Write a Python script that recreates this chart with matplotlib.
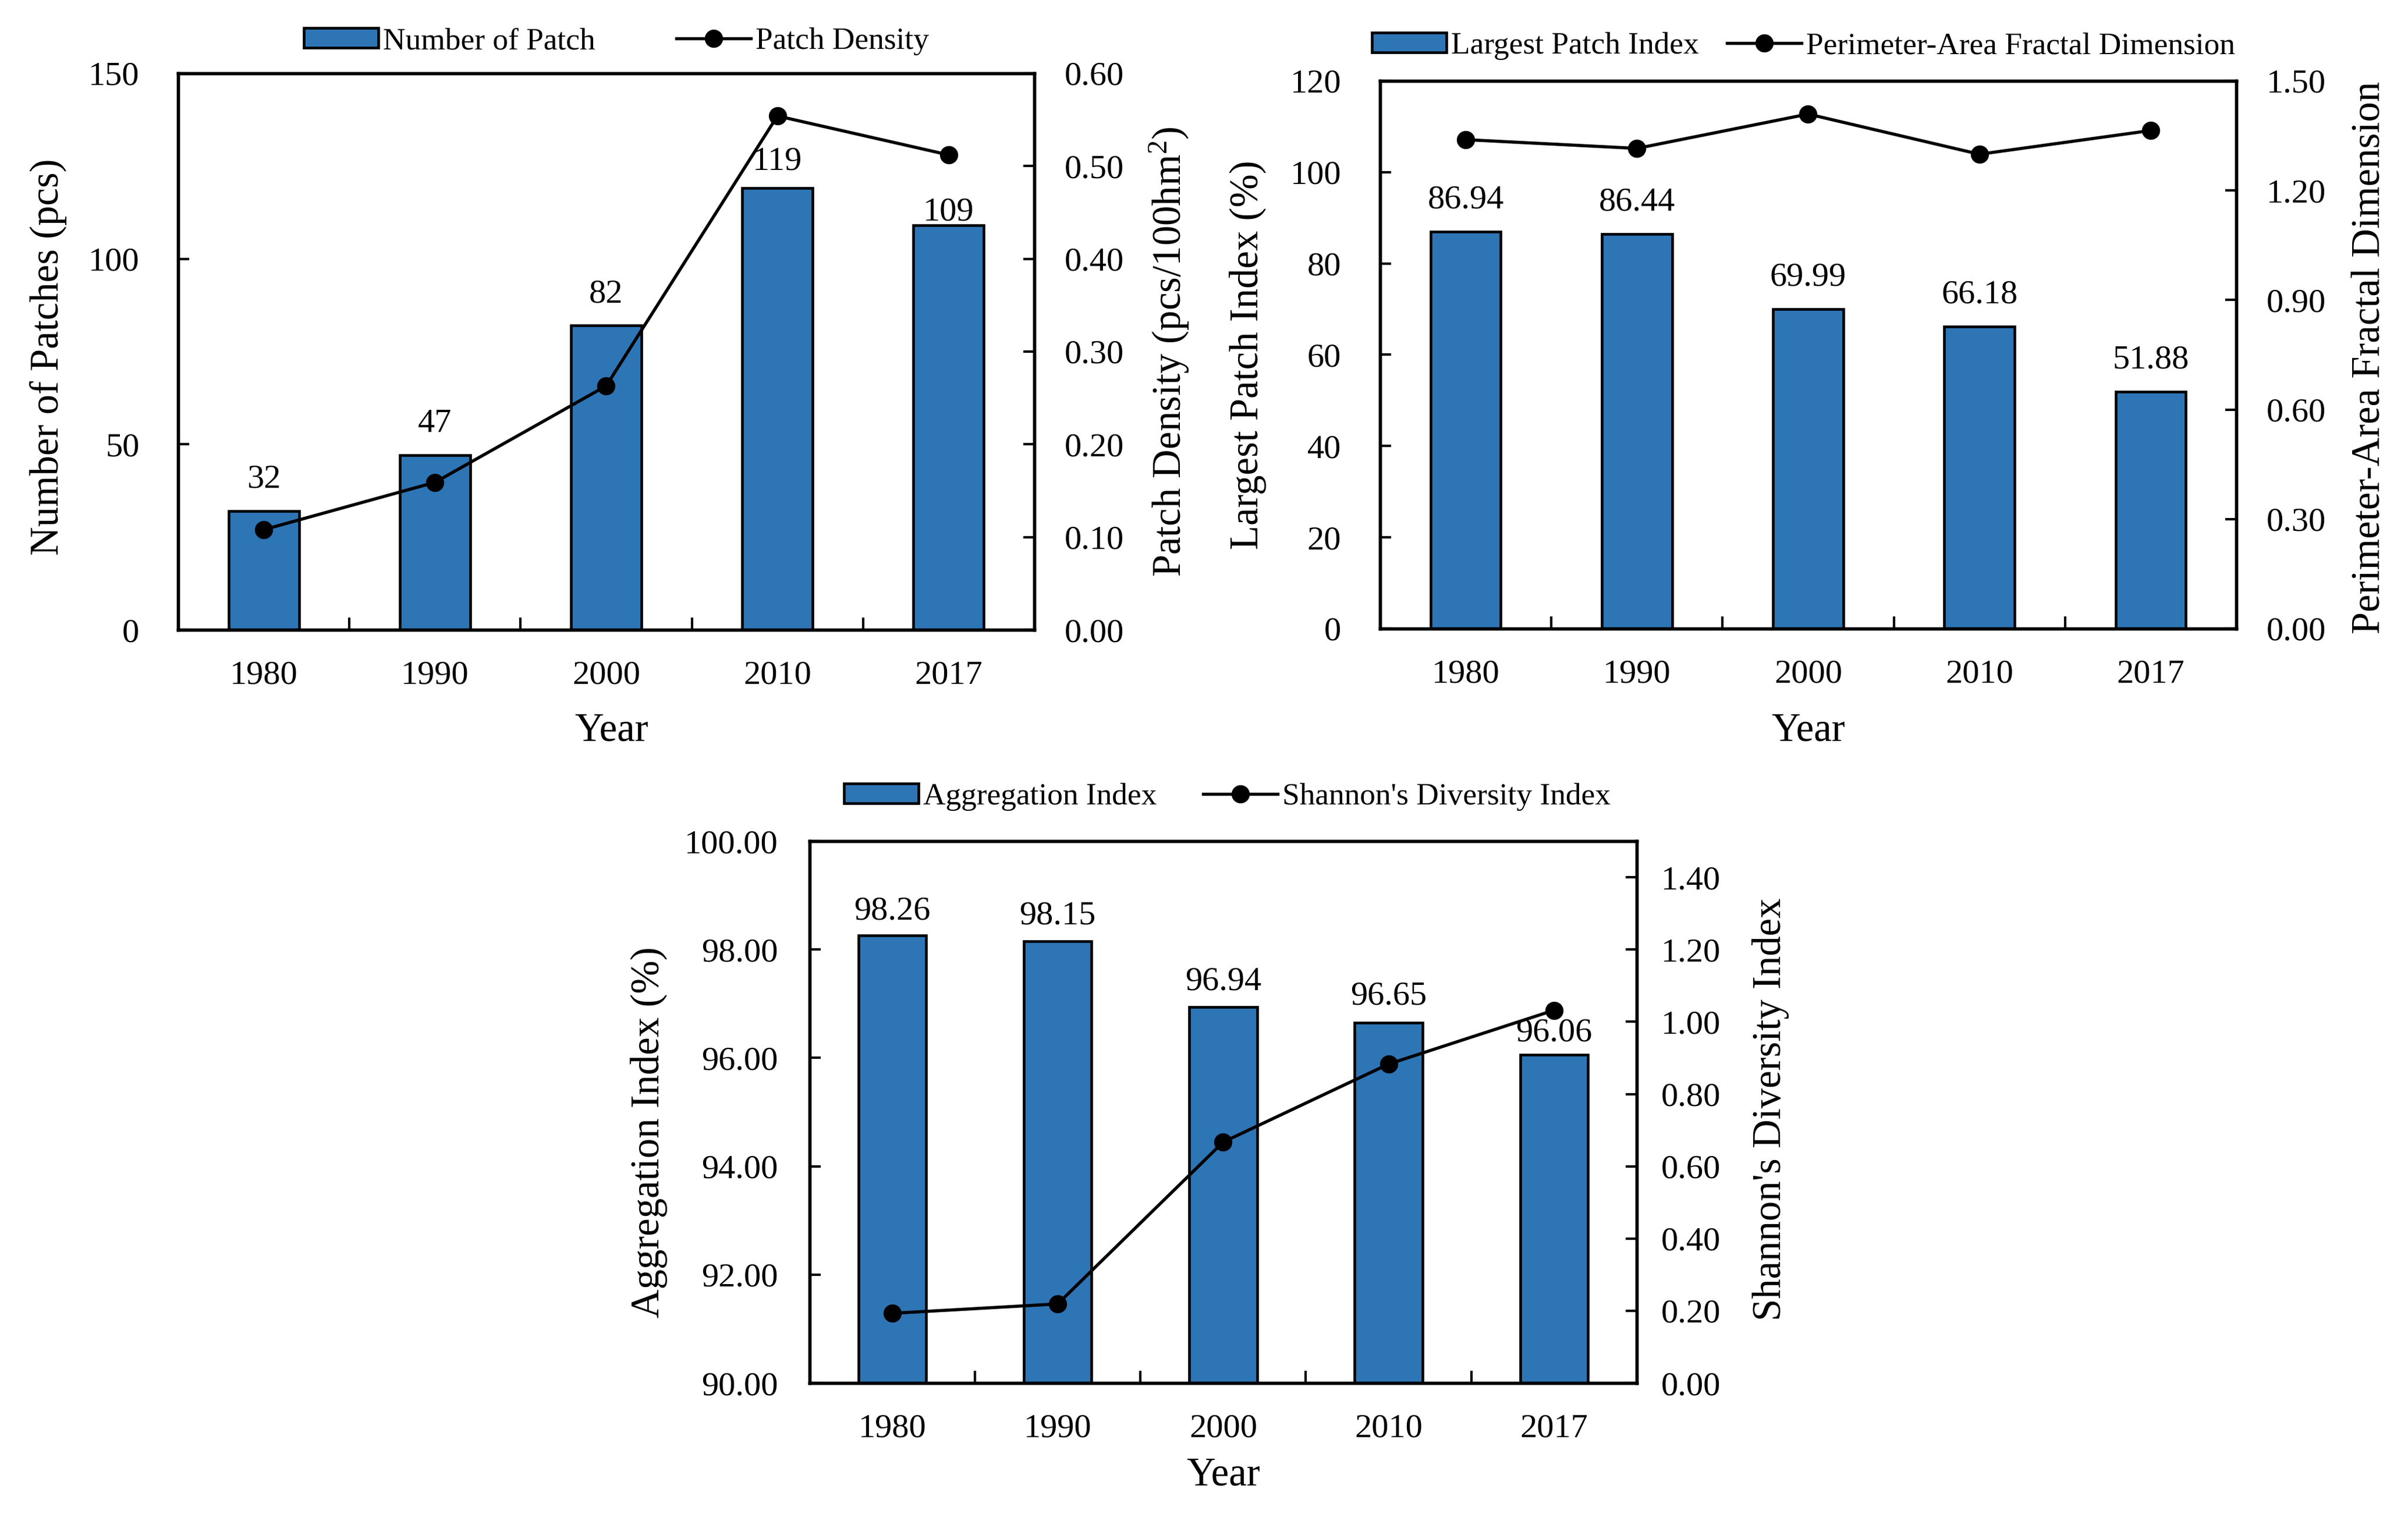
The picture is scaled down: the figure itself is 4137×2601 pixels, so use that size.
import matplotlib
matplotlib.use("Agg")
import matplotlib.pyplot as plt
from matplotlib.ticker import FormatStrFormatter, FixedLocator
import numpy as np

plt.rcParams['font.family'] = ['Liberation Serif', 'DejaVu Serif']
plt.rcParams['mathtext.fontset'] = 'custom'
plt.rcParams['mathtext.rm'] = 'Liberation Serif'
plt.rcParams['mathtext.it'] = 'Liberation Serif:italic'

# ---------------- data ----------------
years = ["1980", "1990", "2000", "2010", "2017"]

number_of_patch = [32, 47, 82, 119, 109]
patch_density = [0.108, 0.159, 0.263, 0.554, 0.512]

largest_patch_index = [86.94, 86.44, 69.99, 66.18, 51.88]
pafd = [1.339, 1.315, 1.409, 1.299, 1.364]

aggregation_index = [98.26, 98.15, 96.94, 96.65, 96.06]
shannon_diversity = [0.193, 0.219, 0.667, 0.883, 1.032]

bar_labels_1 = ["32", "47", "82", "119", "109"]
bar_labels_2 = ["86.94", "86.44", "69.99", "66.18", "51.88"]
bar_labels_3 = ["98.26", "98.15", "96.94", "96.65", "96.06"]

BAR_COLOR = "#2E75B6"
TICK_FS = 14
LABEL_FS = 16.5
LEG_FS = 12.8

fig = plt.figure(figsize=(4137 / 300, 2601 / 300), dpi=300)


def panel(rect, bars, line, labels, label_offsets, bar_name, line_name,
          ylim_l, yticks_l, fmt_l, ylim_r, yticks_r, fmt_r,
          ylabel_l, ylabel_r, lcoords, rcoords, xcoords,
          legend_pos, colspacing, lpad, rpad):
    ax = fig.add_axes(rect)
    x = np.arange(len(years))
    b = ax.bar(x, bars, width=0.41, color=BAR_COLOR, edgecolor="black",
               linewidth=1.1, label=bar_name, zorder=2)
    ax.set_xlim(-0.5, len(years) - 0.5)
    ax.set_ylim(*ylim_l)
    ax.set_yticks(yticks_l)
    ax.yaxis.set_major_formatter(FormatStrFormatter(fmt_l))
    ax.set_xticks(x)
    ax.set_xticklabels(years)
    ax.xaxis.set_minor_locator(FixedLocator(np.arange(len(years) - 1) + 0.5))
    ax.tick_params(axis="x", which="major", length=0, pad=12.5, labelsize=TICK_FS)
    ax.tick_params(axis="x", which="minor", direction="in", length=5, width=1.0)
    ax.tick_params(axis="y", direction="in", length=4.5, width=1.0,
                   pad=lpad, labelsize=TICK_FS)
    for s in ax.spines.values():
        s.set_linewidth(1.3)
    for xi, v, t, off in zip(x, bars, labels, label_offsets):
        ax.annotate(t, (xi, v), xytext=(0, off), textcoords="offset points",
                    ha="center", va="center", fontsize=TICK_FS, zorder=5)

    ax2 = ax.twinx()
    ln, = ax2.plot(x, line, color="black", linewidth=1.3, marker="o",
                   markersize=6.5, label=line_name, zorder=3)
    ax2.set_ylim(*ylim_r)
    ax2.set_yticks(yticks_r)
    ax2.yaxis.set_major_formatter(FormatStrFormatter(fmt_r))
    ax2.tick_params(axis="y", direction="in", length=4.5, width=1.0,
                    pad=rpad, labelsize=TICK_FS)
    for s in ax2.spines.values():
        s.set_linewidth(1.3)

    ax.set_ylabel(ylabel_l, fontsize=LABEL_FS, va="center", ha="center")
    ax.yaxis.set_label_coords(*lcoords)
    ax2.set_ylabel(ylabel_r, fontsize=LABEL_FS, rotation=90,
                   va="center", ha="center")
    ax2.yaxis.set_label_coords(*rcoords)
    ax.set_xlabel("Year", fontsize=LABEL_FS, va="center", ha="center")
    ax.xaxis.set_label_coords(*xcoords)

    fig.legend([b, ln], [bar_name, line_name], loc="center",
               bbox_to_anchor=legend_pos, bbox_transform=fig.transFigure,
               ncol=2, frameon=False, fontsize=LEG_FS, handlelength=2.4,
               handleheight=0.6, handletextpad=0.15, columnspacing=colspacing,
               borderpad=0.1)
    return ax, ax2


# Panel 1
panel([0.074, 0.584, 0.3555, 0.3676], number_of_patch, patch_density,
      bar_labels_1, [13, 13, 13, 11, 5.5], "Number of Patch", "Patch Density",
      (0, 150), [0, 50, 100, 150], "%d",
      (0, 0.6), [0, 0.1, 0.2, 0.3, 0.4, 0.5, 0.6], "%.2f",
      "Number of Patches (pcs)", "Patch Density (pcs/100hm$^{2}$)",
      (-0.152, 0.49), (1.158, 0.5), (0.506, -0.182),
      (0.256, 0.9727), 2.6, 16, 12.5)

# Panel 2
panel([0.5731, 0.5848, 0.3556, 0.3618], largest_patch_index, pafd,
      bar_labels_2, [13, 13, 13, 13, 13], "Largest Patch Index",
      "Perimeter-Area Fractal Dimension",
      (0, 120), [0, 20, 40, 60, 80, 100, 120], "%d",
      (0, 1.5), [0, 0.3, 0.6, 0.9, 1.2, 1.5], "%.2f",
      "Largest Patch Index (%)", "Perimeter-Area Fractal Dimension",
      (-0.154, 0.5), (1.156, 0.495), (0.5, -0.187),
      (0.749, 0.9696), 0.9, 16, 12.5)

# Panel 3
panel([0.3362, 0.0865, 0.3435, 0.3579], aggregation_index, shannon_diversity,
      bar_labels_3, [10, 10.5, 10.5, 11, 9], "Aggregation Index",
      "Shannon's Diversity Index",
      (90, 100), [90, 92, 94, 96, 98, 100], "%.2f",
      (0, 1.5), [0, 0.2, 0.4, 0.6, 0.8, 1.0, 1.2, 1.4], "%.2f",
      "Aggregation Index (%)", "Shannon's Diversity Index",
      (-0.194, 0.463), (1.162, 0.505), (0.5, -0.171),
      (0.5096, 0.4737), 1.5, 13, 10)

fig.savefig("out.png", dpi=300)
